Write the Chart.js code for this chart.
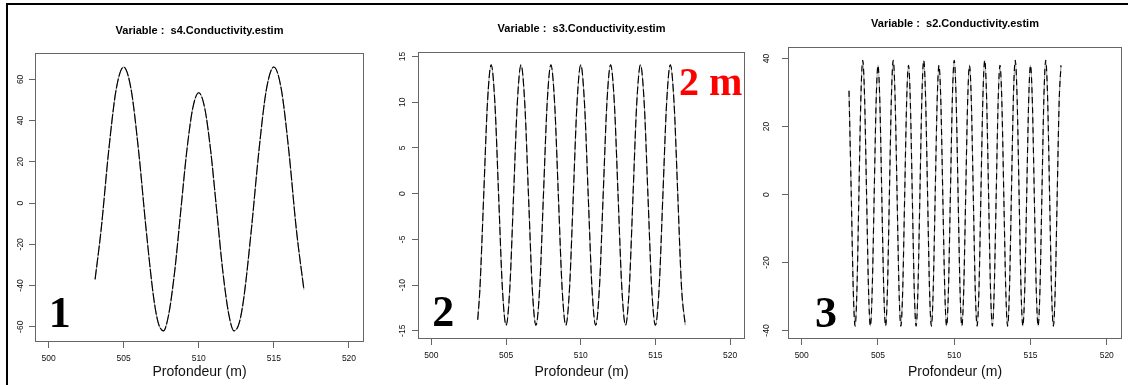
<!DOCTYPE html>
<html><head><meta charset="utf-8">
<script src="https://cdn.jsdelivr.net/npm/chart.js@4"></script>
<style>
html,body{margin:0;padding:0;background:#fff;}
body{width:1128px;height:385px;position:relative;overflow:hidden;font-family:"Liberation Sans",Arial,sans-serif;}
.panel{position:absolute;top:5px;height:380px;}
#frameTop{position:absolute;left:6px;top:3px;width:1122px;height:2px;background:#000;}
#frameLeft{position:absolute;left:6px;top:3px;width:2px;height:382px;background:#000;}
</style></head><body>
<div id="frameTop"></div><div id="frameLeft"></div>
<div class="panel" style="left:9px;width:365px"><canvas id="c1"></canvas></div>
<div class="panel" style="left:376px;width:376px"><canvas id="c2"></canvas></div>
<div class="panel" style="left:752px;width:376px"><canvas id="c3"></canvas></div>
<script>
// ---- data ----
const xTitle = 'Profondeur (m)';
const xTicks = [500, 505, 510, 515, 520];

const title1 = 'Variable :  s4.Conductivity.estim';
const yTicks1 = [-60, -40, -20, 0, 20, 40, 60];
const depth1 = [503.1, 503.5, 504.0, 504.5, 505.0, 505.5, 506.0, 506.5, 507.0, 507.3, 507.65,
  508.0, 508.4, 508.8, 509.2, 509.6, 510.0, 510.4, 510.8, 511.2, 511.6, 512.0, 512.35,
  512.7, 513.0, 513.5, 514.0, 514.5, 515.0, 515.5, 516.0, 516.5, 517.0];
const cond1 = [-37, -13, 25, 55, 66, 55, 25, -13, -46, -58, -62,
  -54, -33, -4, 25, 46, 53.5, 46, 25, -4, -33, -54, -62,
  -58, -46, -13, 25, 55, 66, 55, 25, -13, -42];

const title2 = 'Variable :  s3.Conductivity.estim';
const yTicks2 = [-15, -10, -5, 0, 5, 10, 15];
const depth2 = [503.1,
  503.25, 503.5, 503.75, 504, 504.25, 504.5, 504.75, 505,
  505.25, 505.5, 505.75, 506, 506.25, 506.5, 506.75, 507,
  507.25, 507.5, 507.75, 508, 508.25, 508.5, 508.75, 509,
  509.25, 509.5, 509.75, 510, 510.25, 510.5, 510.75, 511,
  511.25, 511.5, 511.75, 512, 512.25, 512.5, 512.75, 513,
  513.25, 513.5, 513.75, 514, 514.25, 514.5, 514.75, 515,
  515.25, 515.5, 515.75, 516, 516.25, 516.5, 516.75, 517];
const cond2 = [-13.8,
  -10.3, -0.2, 9.9, 14.1, 9.9, -0.2, -10.3, -14.4,
  -10.3, -0.2, 9.9, 14.1, 9.9, -0.2, -10.3, -14.4,
  -10.3, -0.2, 9.9, 14.1, 9.9, -0.2, -10.3, -14.4,
  -10.3, -0.2, 9.9, 14.1, 9.9, -0.2, -10.3, -14.4,
  -10.3, -0.2, 9.9, 14.1, 9.9, -0.2, -10.3, -14.4,
  -10.3, -0.2, 9.9, 14.1, 9.9, -0.2, -10.3, -14.4,
  -10.3, -0.2, 9.9, 14.1, 9.9, -0.2, -10.3, -14.4];

const title3 = 'Variable :  s2.Conductivity.estim';
const yTicks3 = [-40, -20, 0, 20, 40];
const depth3 = [503.1, 503.25, 503.375, 503.5,
  503.625, 503.75, 503.875, 504, 504.125, 504.25, 504.375, 504.5,
  504.625, 504.75, 504.875, 505, 505.125, 505.25, 505.375, 505.5,
  505.625, 505.75, 505.875, 506, 506.125, 506.25, 506.375, 506.5,
  506.625, 506.75, 506.875, 507, 507.125, 507.25, 507.375, 507.5,
  507.625, 507.75, 507.875, 508, 508.125, 508.25, 508.375, 508.5,
  508.625, 508.75, 508.875, 509, 509.125, 509.25, 509.375, 509.5,
  509.625, 509.75, 509.875, 510, 510.125, 510.25, 510.375, 510.5,
  510.625, 510.75, 510.875, 511, 511.125, 511.25, 511.375, 511.5,
  511.625, 511.75, 511.875, 512, 512.125, 512.25, 512.375, 512.5,
  512.625, 512.75, 512.875, 513, 513.125, 513.25, 513.375, 513.5,
  513.625, 513.75, 513.875, 514, 514.125, 514.25, 514.375, 514.5,
  514.625, 514.75, 514.875, 515, 515.125, 515.25, 515.375, 515.5,
  515.625, 515.75, 515.875, 516, 516.125, 516.25, 516.375, 516.5,
  516.625, 516.75, 516.875, 517];
const cond3 = [30.5, -0.4, -27.5, -38.7,
  -27.3, 0.4, 28.0, 39.5, 28.0, 0.4, -27.3, -38.7,
  -27.5, -0.4, 26.8, 38.0, 26.8, -0.4, -27.5, -38.7,
  -27.3, 0.4, 28.0, 39.5, 28.0, 0.4, -27.3, -38.7,
  -27.5, -0.4, 26.8, 38.0, 26.8, -0.4, -27.5, -38.7,
  -27.3, 0.4, 28.0, 39.5, 28.0, 0.4, -27.3, -38.7,
  -27.5, -0.4, 26.8, 38.0, 26.8, -0.4, -27.5, -38.7,
  -27.3, 0.4, 28.0, 39.5, 28.0, 0.4, -27.3, -38.7,
  -27.5, -0.4, 26.8, 38.0, 26.8, -0.4, -27.5, -38.7,
  -27.3, 0.4, 28.0, 39.5, 28.0, 0.4, -27.3, -38.7,
  -27.5, -0.4, 26.8, 38.0, 26.8, -0.4, -27.5, -38.7,
  -27.3, 0.4, 28.0, 39.5, 28.0, 0.4, -27.3, -38.7,
  -27.5, -0.4, 26.8, 38.0, 26.8, -0.4, -27.5, -38.7,
  -27.3, 0.4, 28.0, 39.5, 28.0, 0.4, -27.3, -38.7,
  -27.5, -0.4, 26.8, 38.0];

// ---- rendering ----
const SANS = '"Liberation Sans", Arial, sans-serif';
const SERIF = '"Liberation Serif", "Times New Roman", serif';

const boxPlugin = {
  id: 'rbox',
  afterDatasetsDraw(chart) {
    const a = chart.chartArea, ctx = chart.ctx;
    ctx.save();
    ctx.strokeStyle = '#666';
    ctx.lineWidth = 1;
    ctx.strokeRect(Math.round(a.left) + 0.5, Math.round(a.top) + 0.5,
      Math.round(a.right - a.left) - 1, Math.round(a.bottom - a.top) - 1);
    ctx.restore();
  }
};
const annotPlugin = {
  id: 'annot',
  afterDraw(chart, args, opts) {
    const ctx = chart.ctx;
    (opts.items || []).forEach(it => {
      ctx.save();
      ctx.font = it.font;
      ctx.fillStyle = it.color;
      ctx.textAlign = it.align;
      ctx.textBaseline = 'alphabetic';
      ctx.fillText(it.text, it.x, it.y);
      ctx.restore();
    });
  }
};

function makeChart(id, p) {
  const pts = p.depth.map((x, i) => ({x: x, y: p.cond[i]}));
  const tickFont = {family: SANS, size: 8.5};
  return new Chart(document.getElementById(id), {
    type: 'line',
    data: {datasets: [
      {data: pts, borderColor: '#000', borderWidth: 1.15, borderDash: p.dash, pointRadius: 0, cubicInterpolationMode: 'monotone', fill: false, order: 0},
      {data: pts, borderColor: '#9a9a9a', borderWidth: 1.1, pointRadius: 0, cubicInterpolationMode: 'monotone', fill: false, order: 1}
    ]},
    options: {
      responsive: true, maintainAspectRatio: false, animation: false,
      layout: {padding: {left: 0, right: p.padRight, top: 0, bottom: 0}},
      plugins: {
        legend: {display: false}, tooltip: {enabled: false},
        title: {display: true, text: p.title, fullSize: false, color: '#000',
          font: {family: SANS, size: 11, weight: 'bold', lineHeight: 1.2},
          padding: {top: p.tPadTop, bottom: p.tPadBottom}},
        annot: {items: p.annot}
      },
      scales: {
        x: {type: 'linear', min: 499.1, max: 521.0,
          afterBuildTicks: s => { s.ticks = xTicks.map(v => ({value: v})); },
          afterFit: s => { s.height = p.xH; },
          ticks: {font: tickFont, color: '#111', padding: 6, maxRotation: 0, autoSkip: false},
          grid: {drawOnChartArea: false, tickLength: 6, color: '#666'},
          border: {display: false},
          title: {display: true, text: xTitle, color: '#111', font: {family: SANS, size: 14, lineHeight: 1.2}, padding: {top: 0, bottom: 4.9}}
        },
        y: {type: 'linear', min: p.ymin, max: p.ymax,
          afterBuildTicks: s => { s.ticks = p.yTicks.map(v => ({value: v})); },
          afterFit: s => { s.width = p.yW; },
          ticks: {font: tickFont, color: '#111', padding: p.yPad, minRotation: 90, maxRotation: 90, crossAlign: 'center', autoSkip: false},
          grid: {drawOnChartArea: false, tickLength: 6, color: '#666'},
          border: {display: false}
        }
      }
    },
    plugins: [boxPlugin, annotPlugin]
  });
}

const bigFont = 'bold 44px ' + SERIF;
makeChart('c1', {depth: depth1, cond: cond1, title: title1, yTicks: yTicks1, dash: [10, 2],
  ymin: -67.4, ymax: 72.8, padRight: 10, yW: 26, xH: 43, tPadTop: 19.1, tPadBottom: 15.7, yPad: 2.2,
  annot: [{text: '1', x: 59.7 - 9, y: 327 - 5, font: bigFont, color: '#000', align: 'center'}]});
makeChart('c2', {depth: depth2, cond: cond2, title: title2, yTicks: yTicks2, dash: [8, 3],
  ymin: -15.9, ymax: 15.5, padRight: 7, yW: 42, xH: 46, tPadTop: 17.4, tPadBottom: 16.4, yPad: 2.9,
  annot: [{text: '2', x: 443.3 - 376, y: 326 - 5, font: bigFont, color: '#000', align: 'center'},
          {text: '2 m', x: 679 - 376, y: 95 - 5, font: 'bold 40px ' + SERIF, color: '#ff0000', align: 'left'}]});
makeChart('c3', {depth: depth3, cond: cond3, title: title3, yTicks: yTicks3, dash: [6, 4],
  ymin: -42.5, ymax: 43.4, padRight: 6, yW: 36, xH: 46, tPadTop: 12.4, tPadBottom: 16.4, yPad: 8.9,
  annot: [{text: '3', x: 826 - 752, y: 327 - 5, font: bigFont, color: '#000', align: 'center'}]});
</script>
</body></html>
